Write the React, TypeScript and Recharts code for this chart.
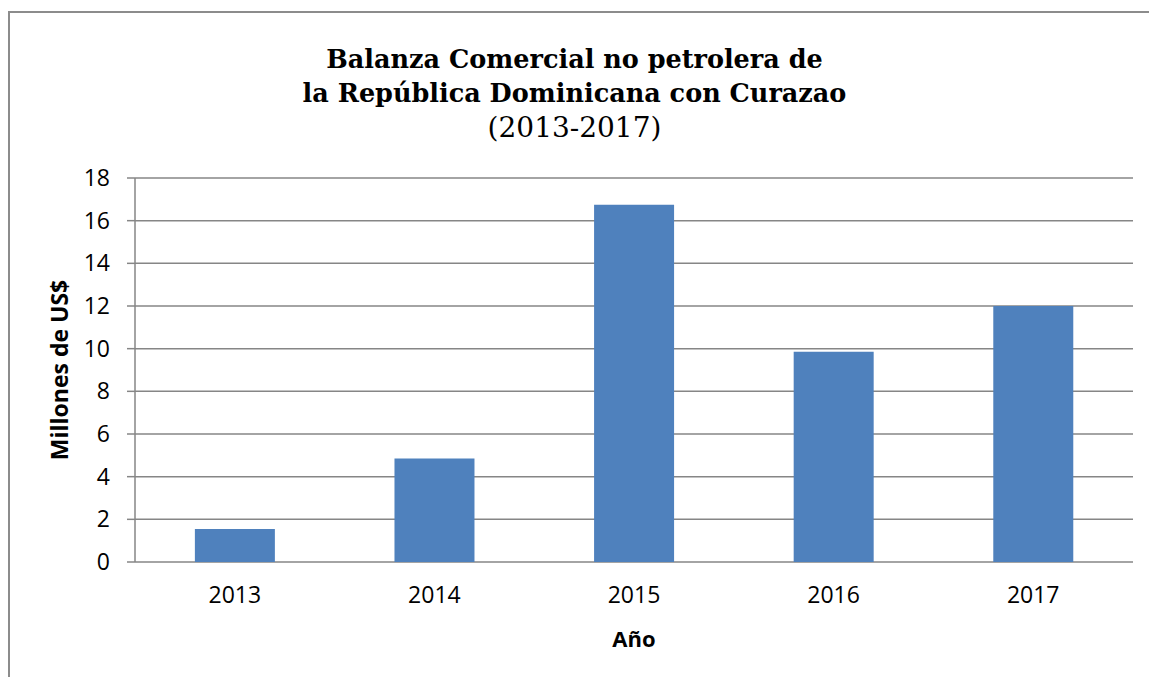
import { BarChart, Bar, XAxis, YAxis, CartesianGrid } from "recharts";

// ── Data ─────────────────────────────────────────────────────────────────────

const YEARS = ["2013", "2014", "2015", "2016", "2017"];
const BALANCE = [1.55, 4.85, 16.75, 9.85, 12.0];
const Y_TICKS = [0, 2, 4, 6, 8, 10, 12, 14, 16, 18];
const EDGE_TICKS = [0, 1, 2, 3, 4, 5];

const TITLE_LINES = ["Balanza Comercial no petrolera de", "la República Dominicana con Curazao"];
const SUBTITLE = "(2013-2017)";

const rows = YEARS.map((year, i) => ({ year, value: BALANCE[i], idx: i + 0.5 }));

const GRID = "#868686";
const BAR = "#4F81BD";
const SANS = "'Open Sans', 'Liberation Sans', sans-serif";
const SERIF = "'DejaVu Serif', 'Liberation Serif', serif";

export default function App() {
  return (
    <div style={{ position: "absolute", left: 0, top: 0, width: 1149, height: 677, background: "#fff", overflow: "hidden" }}>
      {/* chart border (Excel frame, runs off right/bottom) */}
      <div style={{
        position: "absolute", left: 8, top: 11, width: 1200, height: 720,
        borderLeft: "2px solid #8c8c8c", borderTop: "2px solid #8c8c8c",
      }} />

      {/* Title */}
      <div style={{ position: "absolute", left: 0, top: 42, width: 1149, textAlign: "center", fontFamily: SERIF, color: "#000" }}>
        {TITLE_LINES.map(t => (
          <div key={t} style={{ fontSize: 25.5, fontWeight: 700, lineHeight: "34px" }}>{t}</div>
        ))}
        <div style={{ fontSize: 28, lineHeight: "34px", marginTop: 1 }}>{SUBTITLE}</div>
      </div>

      <div style={{ position: "absolute", left: 0, top: 0 }}>
        <BarChart
          width={1149}
          height={677}
          data={rows}
          margin={{ top: 178, right: 16, bottom: 0, left: 0 }}
          barCategoryGap="30%"
        >
          <CartesianGrid horizontal vertical={false} stroke={GRID} strokeWidth={1.5} />
          <XAxis
            xAxisId="edge"
            dataKey="idx"
            type="number"
            domain={[0, 5]}
            ticks={EDGE_TICKS}
            tickFormatter={() => ""}
            height={0}
            stroke={GRID}
            strokeWidth={1.5}
            tickSize={8}
          />
          <XAxis
            dataKey="year"
            height={115}
            axisLine={false}
            tickLine={false}
            tickSize={0}
            tickMargin={25}
            tick={{ fill: "#000", fontSize: 23, fontFamily: SANS }}
            label={{
              value: "Año", position: "insideBottom", offset: 30,
              style: { fill: "#000", fontSize: 22, fontWeight: 700, fontFamily: SANS },
            }}
          />
          <YAxis
            domain={[0, 18]}
            ticks={Y_TICKS}
            width={135}
            interval={0}
            stroke={GRID}
            strokeWidth={1.5}
            tickSize={8}
            tickMargin={17}
            tick={{ fill: "#000", fontSize: 23, fontFamily: SANS }}
            label={{
              value: "Millones de US$", angle: -90, position: "center", dx: -8,
              style: { fill: "#000", fontSize: 23, fontWeight: 700, fontFamily: SANS },
            }}
          />
          <Bar dataKey="value" fill={BAR} isAnimationActive={false} />
        </BarChart>
      </div>
    </div>
  );
}
